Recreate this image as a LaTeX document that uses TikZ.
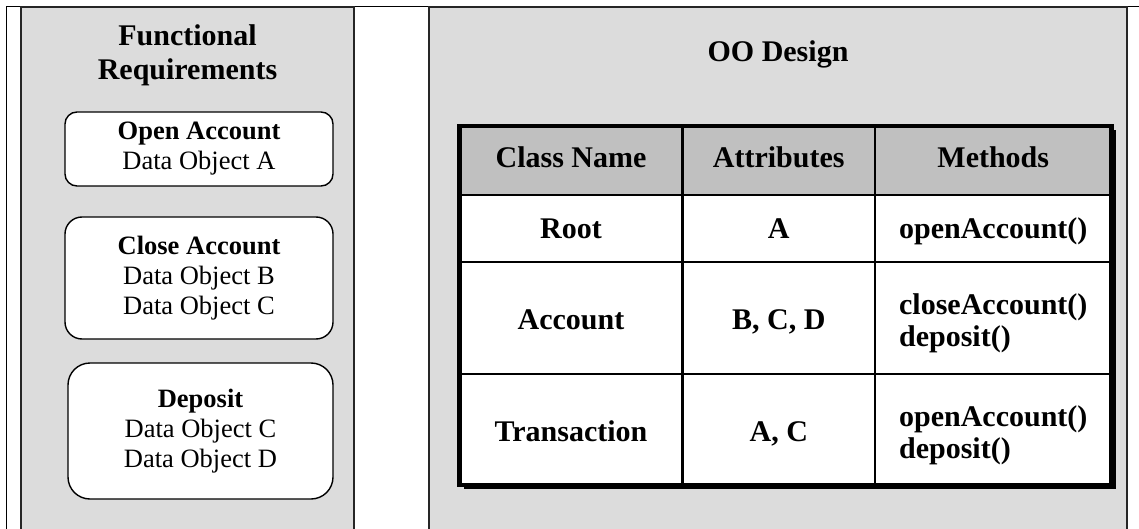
\documentclass[tikz,border=0pt]{standalone}
\usepackage{fontspec}
\setmainfont{Liberation Serif}
\definecolor{panelgray}{HTML}{DCDCDC}
\definecolor{headgray}{HTML}{C0C0C0}
\tikzset{
  frameline/.style={line width=1pt, black},
  panel/.style={draw=black!85, line width=1.6pt, fill=panelgray},
  reqbox/.style={draw=black, line width=1.4pt, fill=white, inner sep=0pt, align=center,
    font=\fontsize{26.5}{30}\selectfont, minimum width=268pt},
  paneltitle/.style={align=center, inner sep=0pt, font=\bfseries\fontsize{30}{34}\selectfont},
  celltext/.style={inner sep=0pt, font=\bfseries\fontsize{30}{32}\selectfont},
  oneline/.style={celltext, anchor=base},
  gridline/.style={line width=2.8pt, black},
  tableborder/.style={line width=4.5pt, black},
}
\begin{document}
\begin{tikzpicture}[x=1pt,y=-1pt]
\useasboundingbox (0,0) rectangle (1139,529);

% outer frame: left and top rules
\draw[frameline] (6,545) -- (6,7) -- (1139,7);

% the two grey panels
\draw[panel] (21,7) rectangle (354,545);
\draw[panel] (429,7) rectangle (1127,545);

% functional requirements column
\node[paneltitle] (fr) at (187.5,55) {Functional\\Requirements};
\node[reqbox, rounded corners=12pt, minimum height=74pt] (open) at (199,149)
  {\textbf{Open Account}\\Data Object A};
\node[reqbox, rounded corners=17pt, minimum height=122pt] (close) at (199,278)
  {\textbf{Close Account}\\Data Object B\\Data Object C};
\node[reqbox, rounded corners=22pt, minimum height=136pt, minimum width=265pt] (deposit) at (200.5,431)
  {\textbf{Deposit}\\Data Object C\\Data Object D};

% object-oriented design column
\node[paneltitle, anchor=base] (oo) at (778,62) {OO Design};

% class table: drop shadow, cell fills, rules, outer border
\fill[black] (463.5,130) rectangle (1115.5,489);
\fill[white] (459.5,126) rectangle (1111.5,485);
\fill[headgray] (459.5,126) rectangle (1111.5,195);
\draw[gridline] (682.5,126) -- (682.5,485);
\draw[gridline] (875,126) -- (875,485);
\draw[gridline] (459.5,195) -- (1111.5,195);
\draw[gridline] (459.5,262) -- (1111.5,262);
\draw[gridline] (459.5,374) -- (1111.5,374);
\draw[tableborder] (459.5,126) rectangle (1111.5,485);

\node[oneline] (hname) at (571,168) {Class Name};
\node[oneline] (hattr) at (778.75,168) {Attributes};
\node[oneline] (hmeth) at (993.25,168) {Methods};

\node[oneline] (c1) at (571,239) {Root};
\node[oneline] (a1) at (778.75,239) {A};
\node[oneline] (m1) at (993.25,239) {openAccount()};

\node[oneline] (c2) at (571,329) {Account};
\node[oneline] (a2) at (778.75,329) {B, C, D};
\node[celltext, align=left] (m2) at (993.25,323) {closeAccount()\\deposit()};

\node[oneline] (c3) at (571,441) {Transaction};
\node[oneline] (a3) at (778.75,441) {A, C};
\node[celltext, align=left] (m3) at (993.25,435) {openAccount()\\deposit()};
\end{tikzpicture}
\end{document}
